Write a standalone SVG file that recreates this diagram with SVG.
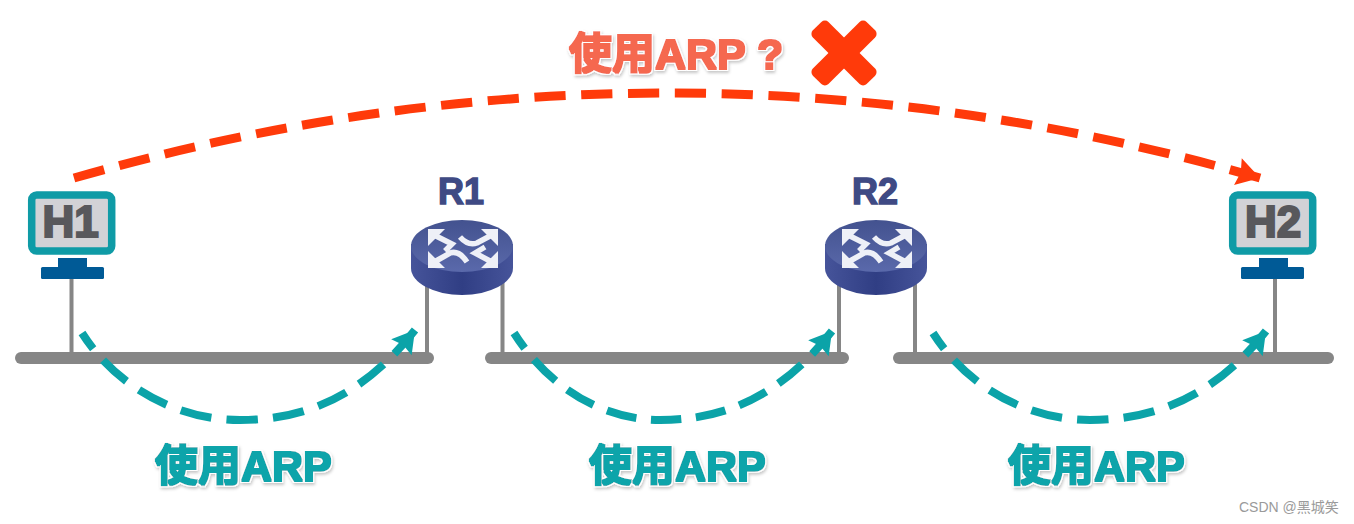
<svg xmlns="http://www.w3.org/2000/svg" width="1354" height="524" viewBox="0 0 1354 524">
<style>
.bar{fill:#868686}
.pole{stroke:#868686;stroke-width:4;fill:none}
.screen{fill:#d2d2d6;stroke:#0f9ba6;stroke-width:7.5}
.stand{fill:#005a96}
.hl{font-family:"Liberation Sans",Arial,sans-serif;font-weight:700;font-size:44px;fill:#58585c;text-anchor:middle;stroke:#58585c;stroke-width:2.2}
.rl{font-family:"Liberation Sans",Arial,sans-serif;font-weight:700;font-size:36px;fill:#3f4a84;text-anchor:middle;stroke:#3f4a84;stroke-width:1.4}
.lab{font-family:"Liberation Sans","Noto Sans CJK SC",sans-serif;font-weight:700;font-size:43px;filter:url(#sh)}
.t{fill:#10a4aa}
.r{fill:#f5674f}
.dt{fill:none;stroke:#0ba3a8;stroke-width:8;stroke-dasharray:31 15;stroke-dashoffset:12}
.dr{fill:none;stroke:#ff3a0a;stroke-width:9;stroke-dasharray:32 16}
.ih{fill:#eef0f7}
.is{fill:none;stroke:#eef0f7;stroke-width:5.500}
.wm{font-family:"Liberation Sans","Noto Sans CJK SC",sans-serif;font-size:14px;fill:#9a9a9a}
</style>
<defs>
<filter id="sh" x="-10%" y="-20%" width="120%" height="145%">
<feMorphology in="SourceGraphic" operator="dilate" radius="0.5" result="fat"/>
<feMorphology in="SourceAlpha" operator="dilate" radius="2" result="halo"/>
<feGaussianBlur in="halo" stdDeviation="1.500" result="b"/>
<feOffset in="b" dx="0.5" dy="2" result="o"/>
<feFlood flood-color="#000" flood-opacity=".22"/>
<feComposite in2="o" operator="in" result="shadow"/>
<feFlood flood-color="#fff"/>
<feComposite in2="halo" operator="in" result="white"/>
<feMerge><feMergeNode in="shadow"/><feMergeNode in="white"/><feMergeNode in="fat"/></feMerge>
</filter>
<linearGradient id="top" x1="0" y1="0" x2="0" y2="1"><stop offset="0" stop-color="#43528f"/><stop offset="1" stop-color="#5a69ab"/></linearGradient>
<linearGradient id="side" x1="0" y1="0" x2="1" y2="0"><stop offset="0" stop-color="#46549a"/><stop offset=".5" stop-color="#303e84"/><stop offset="1" stop-color="#46549a"/></linearGradient>
<marker id="at" markerUnits="userSpaceOnUse" markerWidth="32" markerHeight="32" viewBox="0 0 32 32" refX="28" refY="16" orient="auto"><path d="M6 3L28 16L6 29L9 16Z" fill="#0ba3a8"/></marker>
<marker id="ar" markerUnits="userSpaceOnUse" markerWidth="36" markerHeight="36" viewBox="0 0 36 36" refX="32" refY="18" orient="auto"><path d="M9 4L32 18L9 32L12 18Z" fill="#ff3a0a"/></marker>
<g id="router">
<path d="M-51 -6V18A51 27 0 0 0 51 18V-6Z" fill="url(#side)"/>
<ellipse cx="0" cy="-4" rx="51" ry="26" fill="url(#top)"/>
<path class="ih" d="M-34 -21H-17L-34 -4ZM36 -21H19L36 -4ZM-34 18H-17L-34 1ZM36 18H19L36 1Z"/>
<path class="is" d="M-26 -14L-10 -6L-17 1M28 -14L15 -7Q6 -4 -2 -13M-26 11L-12 3Q-3 0 5 12M28 11L13 3L23 -3"/>
</g>
</defs>
<rect width="1354" height="524" fill="#fff"/>
<g id="segments">
<rect class="bar" x="15" y="352" width="419" height="12" rx="6"/>
<rect class="bar" x="485" y="352" width="364" height="12" rx="6"/>
<rect class="bar" x="893" y="352" width="441" height="12" rx="6"/>
<path class="pole" d="M71.500 278V354M427 284V354M502.500 280V354M839 284V354M915 280V354M1275 278V354"/>
</g>
<g id="H1">
<rect class="screen" x="31.700" y="195" width="80" height="56" rx="5"/>
<rect class="stand" x="58" y="258" width="29" height="10"/>
<rect class="stand" x="41" y="267" width="63" height="12" rx="1.500"/>
<text class="hl" x="70.500" y="237">H1</text>
</g>
<g id="R1">
<text class="rl" x="461" y="203.500">R1</text>
<use href="#router" x="462" y="250"/>
</g>
<g id="R2">
<text class="rl" x="875" y="203.500">R2</text>
<use href="#router" x="876" y="250"/>
</g>
<g id="H2">
<rect class="screen" x="1232.700" y="195" width="80" height="56" rx="5"/>
<rect class="stand" x="1259" y="258" width="29" height="10"/>
<rect class="stand" x="1241" y="267" width="63" height="12" rx="1.500"/>
<text class="hl" x="1273" y="237">H2</text>
</g>
<g id="connectors">
<path class="dr" marker-end="url(#ar)" pathLength="1232" d="M74 178Q668 8 1260 178"/>
<path class="dt" marker-end="url(#at)" pathLength="387" d="M82 333C115 385 175 420 240 420C300 420 360 400 415 330"/>
<path class="dt" marker-end="url(#at)" pathLength="387" d="M514 333C547 385 600 420 660 420C720 420 778 400 832 331"/>
<path class="dt" marker-end="url(#at)" pathLength="387" d="M933 333C966 385 1025 420 1090 420C1150 420 1212 400 1266 331"/>
</g>
<g id="labels">
<text class="lab r" x="569" y="69">使用ARP ?</text>
<g fill="#ff3a0a"><rect x="806" y="42" width="76" height="22" rx="5" transform="rotate(45 844 53)"/><rect x="806" y="42" width="76" height="22" rx="5" transform="rotate(-45 844 53)"/></g>
<text class="lab t" x="155" y="481">使用ARP</text>
<text class="lab t" x="589" y="481">使用ARP</text>
<text class="lab t" x="1008" y="481">使用ARP</text>
<text class="wm" x="1239" y="512">CSDN @黑城笑</text>
</g>
</svg>
